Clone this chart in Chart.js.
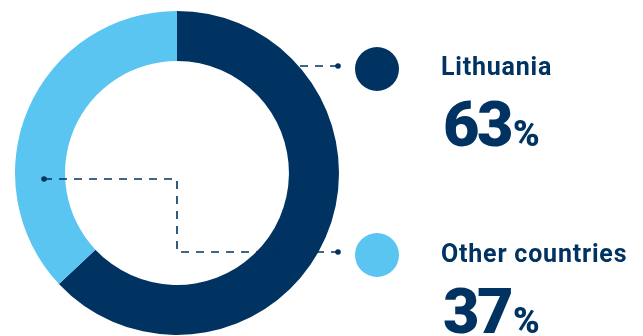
<!DOCTYPE html>
<html>
<head>
<meta charset="utf-8">
<script src="https://cdn.jsdelivr.net/npm/chart.js@4.4.1/dist/chart.umd.min.js"></script>
<style>
  html, body { margin: 0; padding: 0; background: #ffffff; }
  #wrap { position: relative; width: 643px; height: 336px; overflow: hidden; }
  #chart { position: absolute; left: 0; top: 0; }
  .swatch { position: absolute; width: 44px; height: 44px; border-radius: 50%; left: 355px; }
  .name { position: absolute; left: 441px; font-family: Roboto, "Open Sans", sans-serif; font-weight: 700;
          font-size: 25px; line-height: 1; color: #003362; letter-spacing: 0.8px; white-space: nowrap; }
  .pct { position: absolute; left: 443px; font-family: Roboto, "Open Sans", sans-serif; font-weight: 900;
         font-size: 63px; line-height: 1; color: #003362; letter-spacing: -2.5px; white-space: nowrap; }
  .pct span { font-size: 36px; letter-spacing: 0; margin-left: 2px; font-weight: 900; }
</style>
</head>
<body>
<div id="wrap">
  <canvas id="chart" width="643" height="336"></canvas>
  <div class="swatch" id="sw0" style="top:47px"></div>
  <div class="name" style="top:54px">Lithuania</div>
  <div class="pct" id="p0" style="top:93px"></div>
  <div class="swatch" id="sw1" style="top:233px"></div>
  <div class="name" style="top:241px">Other countries</div>
  <div class="pct" id="p1" style="top:280px"></div>
</div>
<script>
// Share of total by origin
const categories = ["Lithuania", "Other countries"];
const shares = [63, 37];
const colors = ["#003362", "#5BC5F2"];

document.getElementById("sw0").style.background = colors[0];
document.getElementById("sw1").style.background = colors[1];
document.getElementById("p0").innerHTML = shares[0] + "<span>%</span>";
document.getElementById("p1").innerHTML = shares[1] + "<span>%</span>";

// Dashed leader lines from the ring to the labels
const leaders = {
  id: "leaders",
  afterDatasetsDraw(chart) {
    const arc = chart.getDatasetMeta(0).data[0];
    const cx = arc.x, cy = arc.y, R = arc.outerRadius, r = arc.innerRadius;
    const ctx = chart.ctx;
    const col = "#003362";
    ctx.save();
    ctx.strokeStyle = col;
    ctx.lineWidth = 1.6;
    ctx.setLineDash([8, 7]);
    const xr = cx + R - 1;
    // upper leader
    ctx.beginPath();
    ctx.moveTo(xr, cy - 107);
    ctx.lineTo(cx + 90, cy - 107);
    ctx.stroke();
    // lower leader with an elbow through the center column
    const xl = cx - (R + r) / 2 + 4;
    ctx.beginPath();
    ctx.moveTo(xl, cy + 6);
    ctx.lineTo(cx, cy + 6);
    ctx.lineTo(cx, cy + 79);
    ctx.lineTo(xr, cy + 79);
    ctx.stroke();
    ctx.setLineDash([]);
    ctx.fillStyle = col;
    [[xr, cy - 107], [xl, cy + 6], [xr, cy + 79]].forEach(([x, y]) => {
      ctx.beginPath();
      ctx.arc(x, y, 2.8, 0, Math.PI * 2);
      ctx.fill();
    });
    ctx.restore();
  }
};

new Chart(document.getElementById("chart"), {
  type: "doughnut",
  data: {
    labels: categories,
    datasets: [{
      data: shares,
      backgroundColor: colors,
      borderWidth: 0,
      hoverOffset: 0
    }]
  },
  options: {
    responsive: false,
    animation: false,
    cutout: "69.1%",
    layout: { padding: { left: 15, right: 304, top: 11, bottom: 1 } },
    plugins: { legend: { display: false }, tooltip: { enabled: false } },
    events: []
  },
  plugins: [leaders]
});
</script>
</body>
</html>
